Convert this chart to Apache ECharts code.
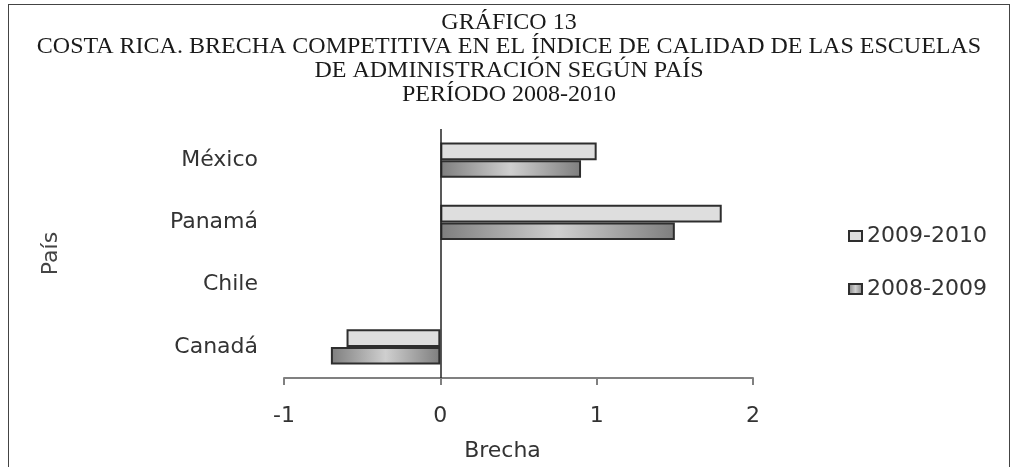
<!DOCTYPE html>
<html>
<head>
<meta charset="utf-8">
<script src="https://cdn.jsdelivr.net/npm/echarts@6/dist/echarts.min.js"></script>
<style>
html,body{margin:0;padding:0;background:#fff;overflow:hidden;width:1018px;height:467px;}
#frame{position:absolute;left:8px;top:4px;width:1002px;height:463px;border:1.5px solid #444;border-bottom:none;box-sizing:border-box;}
#chart{position:absolute;left:0;top:0;width:1018px;height:467px;}
</style>
</head>
<body>
<div id="frame"></div>
<div id="chart"></div>
<script>
const titleLines = [
  'GRÁFICO 13',
  'COSTA RICA. BRECHA COMPETITIVA EN EL ÍNDICE DE CALIDAD DE LAS ESCUELAS',
  'DE ADMINISTRACIÓN SEGÚN PAÍS',
  'PERÍODO 2008-2010'
];
const categories = ['Canadá', 'Chile', 'Panamá', 'México'];
const seriesNames = ['2009-2010', '2008-2009'];
const values2009_2010 = [-0.6, 0, 1.8, 1.0];
const values2008_2009 = [-0.7, 0, 1.5, 0.9];
const xTicks = { min: -1, max: 2, interval: 1 };
const xName = 'Brecha';
const yName = 'País';

function prep(vals) {
  return vals.map(v => v === 0 ? { value: v, itemStyle: { borderWidth: 0 } } : v);
}

const chart = echarts.init(document.getElementById('chart'), null, {renderer: 'canvas', width: 1018, height: 467});
const sansFont = 'DejaVu Sans, sans-serif';
const option = {
  backgroundColor: 'transparent',
  animation: false,
  title: {
    text: titleLines.join('\n'),
    left: 'center',
    top: 6,
    textStyle: {
      fontFamily: 'Liberation Serif, serif',
      fontWeight: 'normal',
      fontSize: 24,
      lineHeight: 24,
      color: '#1a1a1a'
    }
  },
  legend: {
    orient: 'vertical',
    left: 843,
    top: 220,
    itemWidth: 13,
    itemHeight: 10,
    itemGap: 31,
    icon: 'rect',
    data: seriesNames,
    textStyle: { fontFamily: sansFont, fontSize: 22, color: '#333' }
  },
  grid: { left: 284, right: 265, top: 129, bottom: 85, containLabel: false },
  xAxis: {
    type: 'value',
    min: xTicks.min, max: xTicks.max, interval: xTicks.interval,
    name: xName,
    nameLocation: 'middle',
    nameGap: 62,
    nameTextStyle: { fontFamily: sansFont, fontSize: 22, color: '#333', padding: [0, 32, 0, 0] },
    axisLine: { show: true, onZero: false, lineStyle: { color: '#808080', width: 2 } },
    axisTick: { show: true, length: 7, lineStyle: { color: '#808080', width: 2 } },
    axisLabel: { fontFamily: sansFont, fontSize: 22, color: '#333', margin: 27 },
    splitLine: { show: false }
  },
  yAxis: {
    type: 'category',
    data: categories,
    name: yName,
    nameLocation: 'middle',
    nameGap: 222,
    nameRotate: 90,
    nameTextStyle: { fontFamily: sansFont, fontSize: 22, color: '#444' },
    axisLine: { show: false },
    axisTick: { show: false },
    axisLabel: { fontFamily: sansFont, fontSize: 22, color: '#333', margin: 26, padding: [4, 0, 0, 0] }
  },
  series: [
    {
      name: seriesNames[0],
      type: 'bar',
      data: prep(values2009_2010),
      barGap: '0%',
      barCategoryGap: '43%',
      itemStyle: {
        color: '#dedede',
        borderColor: '#2e2e2e',
        borderWidth: 2
      },
      markLine: {
        silent: true,
        symbol: 'none',
        label: { show: false },
        lineStyle: { color: '#222', width: 1.5, type: 'solid' },
        data: [{ xAxis: 0 }]
      }
    },
    {
      name: seriesNames[1],
      type: 'bar',
      data: prep(values2008_2009),
      barGap: '0%',
      barCategoryGap: '43%',
      itemStyle: {
        color: new echarts.graphic.LinearGradient(0, 0, 1, 0, [
          {offset: 0, color: '#7e7e7e'},
          {offset: 0.5, color: '#cfcfcf'},
          {offset: 1, color: '#7e7e7e'}
        ]),
        borderColor: '#2e2e2e',
        borderWidth: 2
      }
    }
  ]
};
chart.setOption(option);
</script>
</body>
</html>
